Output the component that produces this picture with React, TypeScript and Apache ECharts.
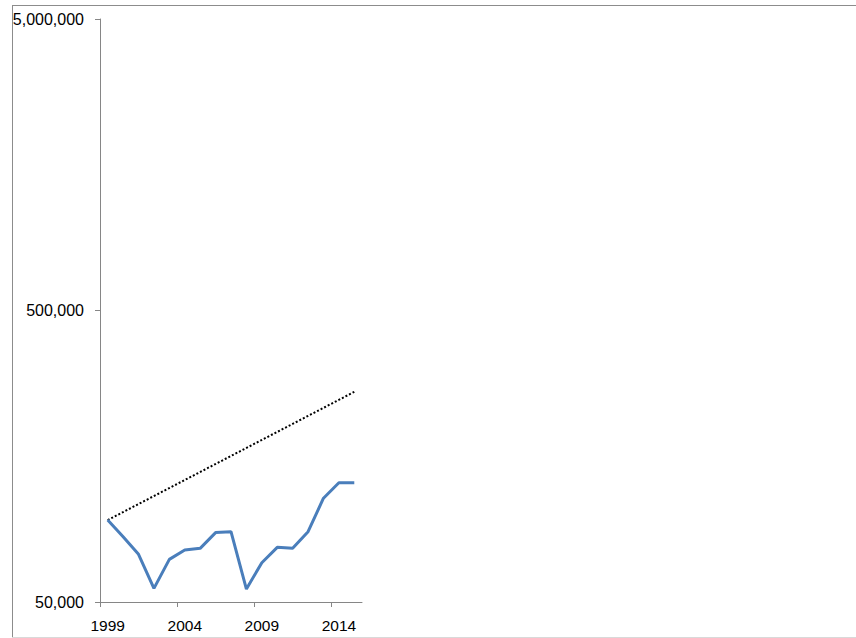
import React, { useEffect, useRef } from "react";
import * as echarts from "echarts";

const years = [1999, 2000, 2001, 2002, 2003, 2004, 2005, 2006, 2007, 2008, 2009, 2010, 2011, 2012, 2013, 2014, 2015];
const actual = [95500, 83700, 72900, 55700, 70000, 75400, 76400, 86500, 87100, 55400, 68200, 77000, 76400, 87100, 113500, 128300, 128300];
const trend = [95500, null, null, null, null, null, null, null, null, null, null, null, null, null, null, null, 263000];
const yTicks = [50000, 500000, 5000000];
const xLabels = [1999, 2004, 2009, 2014];
const xTickPositions = [1998.5, 2003.5, 2008.5, 2013.5];

export default function App() {
  const ref = useRef<HTMLDivElement>(null);
  useEffect(() => {
    if (!ref.current) return;
    const chart = echarts.init(ref.current, null, { renderer: "svg" });
    const font = "Liberation Sans";
    chart.setOption({
      animation: false,
      backgroundColor: "#ffffff",
      grid: { left: 100, top: 19, width: 262, height: 583, containLabel: false },
      xAxis: {
        type: "value",
        min: 1998.5,
        max: 2015.5,
        axisLine: { show: true, onZero: false, lineStyle: { color: "#868686", width: 1 } },
        axisTick: { show: true, length: 5, inside: false, customValues: xTickPositions, lineStyle: { color: "#868686" } },
        axisLabel: {
          customValues: xLabels,
          color: "#000",
          fontFamily: font,
          fontSize: 15.5,
          margin: 15,
          formatter: (v: number) => String(v),
        },
        splitLine: { show: false },
      },
      yAxis: {
        type: "log",
        logBase: 10,
        min: 50000,
        max: 5000000,
        axisLine: { show: true, lineStyle: { color: "#868686", width: 1 } },
        axisTick: { show: true, length: 5, inside: false, customValues: yTicks, lineStyle: { color: "#868686" } },
        axisLabel: {
          customValues: yTicks,
          color: "#000",
          fontFamily: font,
          fontSize: 16,
          margin: 16,
          formatter: (v: number) => Math.round(v).toLocaleString("en-US"),
        },
        splitLine: { show: false },
        minorTick: { show: false },
      },
      series: [
        {
          type: "line",
          data: years.map((y, i) => [y, trend[i]]),
          connectNulls: true,
          showSymbol: false,
          symbol: "none",
          lineStyle: { color: "#000000", width: 2, type: [2, 2] },
          z: 2,
        },
        {
          type: "line",
          data: years.map((y, i) => [y, actual[i]]),
          showSymbol: false,
          symbol: "none",
          lineStyle: { color: "#4a7ebb", width: 3 },
          z: 3,
        },
      ],
      graphic: [
        { type: "line", shape: { x1: 12, y1: 5.5, x2: 856, y2: 5.5 }, style: { stroke: "#8c8c8c", lineWidth: 1 } },
        { type: "line", shape: { x1: 12.5, y1: 5, x2: 12.5, y2: 638 }, style: { stroke: "#8c8c8c", lineWidth: 1 } },
        { type: "line", shape: { x1: 12, y1: 637.5, x2: 856, y2: 637.5 }, style: { stroke: "#d9d9d9", lineWidth: 1 } },
      ],
    });
    return () => chart.dispose();
  }, []);
  return <div ref={ref} style={{ position: "absolute", left: 0, top: 0, width: 856, height: 638 }} />;
}
